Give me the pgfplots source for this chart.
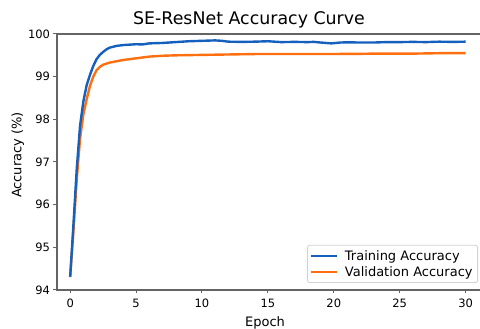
\documentclass[border=0pt]{standalone}
\usepackage{fontspec}
\setmainfont{DejaVu Sans}
\usepackage{pgfplots}
\pgfplotsset{compat=1.18}
\definecolor{trainblue}{RGB}{21,96,189}
\definecolor{valorange}{RGB}{255,111,15}
\definecolor{spine}{RGB}{100,100,100}
\definecolor{legframe}{RGB}{210,210,210}
\begin{document}
\begin{tikzpicture}
\begin{axis}[
  scale only axis, width=428pt, height=256pt,
  xmin=-1, xmax=31.47, ymin=94, ymax=100,
  xtick={0,5,...,30}, ytick={94,95,...,100},
  tick pos=left, tick align=outside, major tick length=3.5pt,
  tick style={spine, line width=1pt},
  axis line style={spine, line width=1.5pt},
  ticklabel style={font=\fontsize{11.5}{13}\selectfont},
  xticklabel style={yshift=-2pt},
  /pgf/number format/assume math mode=true,
  reverse legend,
  legend cell align=left,
  legend image code/.code={\draw[#1] (0pt,0pt) -- (26pt,0pt);},
  legend style={at={(rel axis cs:1,0)}, anchor=south east, xshift=-7pt, yshift=7pt,
    draw=legframe, rounded corners=2pt, line width=0.8pt,
    font=\fontsize{13}{15}\selectfont, inner xsep=2pt, inner ysep=2pt,
    nodes={inner sep=3pt}, row sep=-1.5pt, column sep=4pt},
]
\coordinate (bl) at (rel axis cs:0,0);
\coordinate (tr) at (rel axis cs:1,1);
\addplot[valorange, line width=2.4pt, line join=round] coordinates {
(0,94.3) (0.25,95.4) (0.5,96.6) (0.75,97.55) (1.0,98.12) (1.25,98.47) (1.5,98.78) (1.75,99.0) (2.0,99.15) (2.25,99.23) (2.5,99.28) (3.0,99.33) (3.5,99.36) (4,99.39) (4.5,99.41) (5,99.43) (5.5,99.45) (6,99.47) (6.5,99.48) (7,99.49) (8,99.50) (9,99.505) (10,99.51) (11,99.515) (12,99.52) (13,99.525) (14,99.53) (15,99.53) (16,99.53) (17,99.53) (18,99.53) (19,99.53) (20,99.53) (21,99.535) (22,99.535) (23,99.54) (24,99.54) (25,99.54) (26,99.54) (27,99.545) (28,99.55) (29,99.55) (30,99.55)
};
\addlegendentry{Validation Accuracy}
\addplot[trainblue, line width=2.4pt, line join=round] coordinates {
(0,94.31) (0.25,95.55) (0.5,96.85) (0.75,97.85) (1.0,98.42) (1.25,98.8) (1.5,99.04) (1.75,99.25) (2.0,99.41) (2.25,99.51) (2.5,99.58) (2.75,99.64) (3.0,99.68) (3.5,99.72) (4,99.74) (4.5,99.75) (5,99.76) (5.5,99.755) (6,99.78) (6.5,99.785) (7,99.79) (8,99.81) (9,99.83) (10,99.84) (11,99.85) (11.5,99.84) (12,99.82) (13,99.815) (14,99.82) (15,99.83) (16,99.81) (17,99.815) (18,99.81) (18.5,99.815) (19,99.80) (19.8,99.78) (20.5,99.80) (21,99.805) (22,99.80) (23,99.80) (24,99.81) (25,99.81) (26,99.815) (27,99.81) (28,99.82) (29,99.815) (30,99.82)
};
\addlegendentry{Training Accuracy}
\end{axis}
\node[anchor=base, font=\fontsize{17.4}{20}\selectfont] at ([shift={(192pt,9pt)}]bl |- tr) {SE-ResNet Accuracy Curve};
\node[anchor=base, font=\fontsize{13}{15}\selectfont] at ([shift={(208pt,-37pt)}]bl) {Epoch};
\node[anchor=base, rotate=90, font=\fontsize{13}{15}\selectfont] at ([shift={(-35.5pt,135pt)}]bl) {Accuracy (\%)};
\pgfresetboundingbox
\path[use as bounding box] ([shift={(-57pt,-39pt)}]bl) rectangle ([shift={(-5pt,34pt)}]tr);
\end{tikzpicture}
\end{document}
